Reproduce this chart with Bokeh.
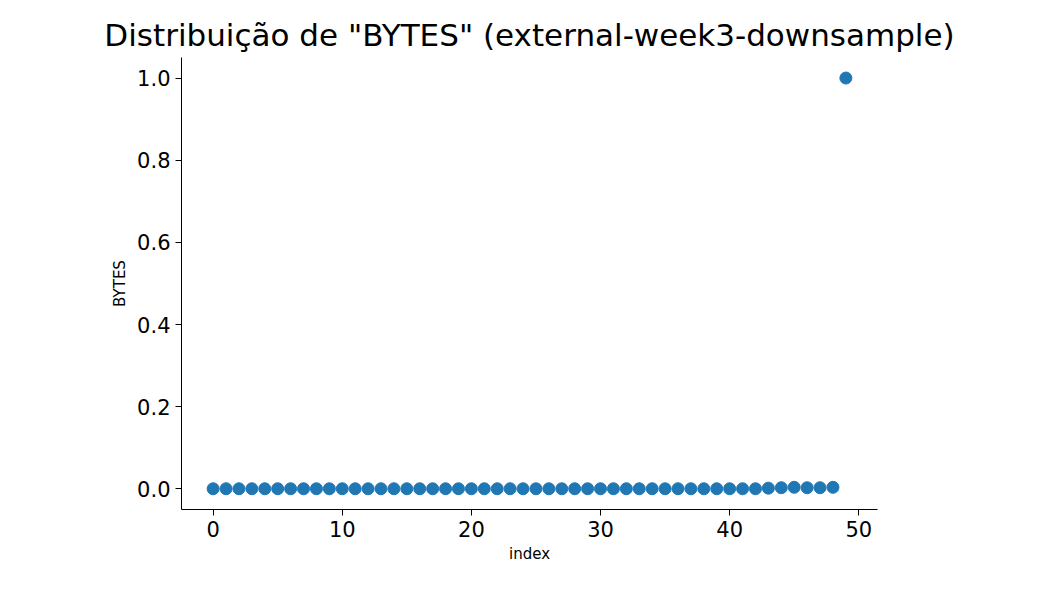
from bokeh.plotting import figure
from bokeh.embed import file_html
from bokeh.resources import INLINE
from bokeh.models import Range1d, FixedTicker, NumeralTickFormatter

# index 0..49 and BYTES values (normalised)
index = list(range(50))
bytes_vals = [0.0005] * 43 + [0.002, 0.003, 0.004, 0.003, 0.003, 0.004] + [1.0]

p = figure(width=1040, height=580, output_backend="svg", toolbar_location=None,
           tools=[], title='Distribuição de "BYTES" (external-week3-downsample)',
           x_axis_label="index", y_axis_label="BYTES",
           x_range=Range1d(-2.45, 51.45), y_range=Range1d(-0.05, 1.05),
           min_border_left=181, min_border_right=163, min_border_top=57,
           min_border_bottom=71)

p.scatter(index, bytes_vals, size=12, color="#1f77b4")

p.title.text_font = "DejaVu Sans"
p.title.text_font_size = "31px"
p.title.text_font_style = "normal"
p.title.text_color = "black"
p.title.align = "center"
p.title.offset = -4
p.outline_line_color = None
p.xgrid.visible = False
p.ygrid.visible = False
for ax in (p.xaxis, p.yaxis):
    ax.axis_line_color = "black"
    ax.major_tick_line_color = "black"
    ax.minor_tick_line_color = None
    ax.major_tick_out = 6
    ax.major_tick_in = 0
    ax.major_label_text_font = "DejaVu Sans"
    ax.major_label_text_font_size = "21px"
    ax.major_label_text_color = "black"
    ax.axis_label_text_font = "DejaVu Sans"
    ax.axis_label_text_font_size = "15px"
    ax.axis_label_text_font_style = "normal"
    ax.axis_label_text_color = "black"
p.xaxis.ticker = FixedTicker(ticks=[0, 10, 20, 30, 40, 50])
p.yaxis.ticker = FixedTicker(ticks=[0, 0.2, 0.4, 0.6, 0.8, 1.0])
p.yaxis.formatter = NumeralTickFormatter(format="0.0")

open("out.html", "w").write(file_html(p, INLINE))
